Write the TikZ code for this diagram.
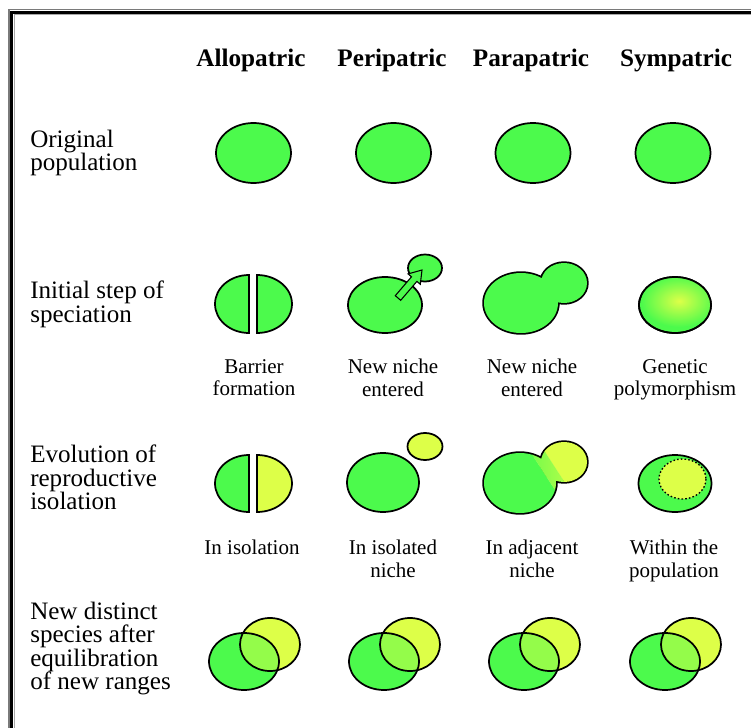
\documentclass[tikz,border=0pt]{standalone}
\usepackage{fontspec}
\setmainfont{Liberation Serif}
\definecolor{grn}{HTML}{4CFA4C}
\definecolor{yel}{HTML}{DDFF48}
\definecolor{mixc}{HTML}{94FC4A}
\definecolor{frmgray}{HTML}{7A7A7A}
\definecolor{frmlight}{HTML}{A8A8A8}
\begin{document}
\begin{tikzpicture}[x=0.75pt,y=-0.75pt,
  outl/.style={draw=black, line width=1.3pt},
  hdr/.style={anchor=north, inner sep=0pt, font=\fontsize{18.9}{22}\selectfont\bfseries},
  rowlab/.style={anchor=north west, inner sep=0pt, align=left, font={\fontsize{18.8}{17.5}\selectfont\lineskiplimit=-20pt}},
  sublab/.style={anchor=north, inner sep=0pt, align=center, font={\fontsize{15.75}{16.8}\selectfont\lineskiplimit=-20pt}}]
\useasboundingbox (0,0) rectangle (751,728);
\fill[white] (0,0) rectangle (751,728);
% frame
\draw[frmgray, line width=1.1pt, line join=miter] (8.8,730) -- (8.8,9.6) -- (753,9.6);
\draw[black, line width=2.5pt, line join=miter] (11.8,730) -- (11.8,12.4) -- (753,12.4);
\draw[frmlight, line width=0.9pt, line join=miter] (14.2,730) -- (14.2,14.8) -- (753,14.8);

% headers
\node[hdr] (hA) at (251,49) {Allopatric};
\node[hdr] (hB) at (392,49) {Peripatric};
\node[hdr] (hC) at (531,49) {Parapatric};
\node[hdr] (hD) at (676,49) {Sympatric};

% row labels
\node[rowlab] (r1) at (30,130) {Original\\population};
\node[rowlab] (r2) at (30,281) {Initial step of\\speciation};
\node[rowlab] (r3) at (30,445) {Evolution of\\reproductive\\isolation};
\node[rowlab] (r4) at (30,602) {New distinct\\species after\\equilibration\\of new ranges};

% row 1
\foreach \cx in {253.5,393.5,533,673}
  \draw[outl, fill=grn] (\cx,153) ellipse [x radius=37.5, y radius=30];

% row 2 allopatric
\draw[outl, fill=grn] (249,275) arc[start angle=270, end angle=90, x radius=34, y radius=29] -- cycle;
\draw[outl, fill=grn] (257,275) arc[start angle=-90, end angle=90, x radius=35, y radius=29] -- cycle;
% row 2 peripatric
\draw[outl, fill=grn] (385,305) ellipse [x radius=37, y radius=28];
\draw[outl, fill=grn] (425,268) ellipse [x radius=17, y radius=13.5];
\draw[fill=grn, draw=black, line width=0.8pt, line join=miter]
  (400.7,300.3) -- (416.9,281.4) -- (420.3,284.3) -- (422,270) -- (408.1,273.9) -- (411.5,276.8) -- (395.3,295.7) -- cycle;
% row 2 parapatric
\draw[line width=2.6pt] (521,303) ellipse [x radius=37, y radius=30] (564,283) ellipse [x radius=23, y radius=20];
\fill[grn] (521,303) ellipse [x radius=37, y radius=30] (564,283) ellipse [x radius=23, y radius=20];
% row 2 sympatric
\draw[outl, fill=grn] (675,305) ellipse [x radius=36, y radius=28];
\begin{scope}
  \clip (675,305) ellipse [x radius=36, y radius=28];
  \shade[inner color=yel, outer color=grn] (679,301) ellipse [x radius=38, y radius=26];
\end{scope}
\draw[outl] (675,305) ellipse [x radius=36, y radius=28];

% row 2 labels
\node[sublab] (l21) at (254,359) {Barrier\\formation};
\node[sublab] (l22) at (393,359) {New niche\\entered};
\node[sublab] (l23) at (532,359) {New niche\\entered};
\node[sublab] (l24) at (675,359) {Genetic\\polymorphism};

% row 3 allopatric
\draw[outl, fill=grn] (249,455) arc[start angle=270, end angle=90, x radius=34, y radius=28.5] -- cycle;
\draw[outl, fill=yel] (257,455) arc[start angle=-90, end angle=90, x radius=35, y radius=28.5] -- cycle;
% row 3 peripatric
\draw[outl, fill=grn] (383,482.5) ellipse [x radius=36, y radius=29.5];
\draw[outl, fill=yel] (425,446.5) ellipse [x radius=17.5, y radius=13.5];
% row 3 parapatric
\draw[line width=2.6pt] (520,483) ellipse [x radius=36, y radius=30] (564,462) ellipse [x radius=23, y radius=20];
\begin{scope}
  \clip (520,483) ellipse [x radius=36, y radius=30] (564,462) ellipse [x radius=23, y radius=20];
  \fill[grn, shift={(550,471)}, rotate=33] (-120,-80) rectangle (-6,80);
  \fill[yel, shift={(550,471)}, rotate=33] (6,-80) rectangle (120,80);
  \shade[left color=grn, right color=yel, shift={(550,471)}, rotate=33] (-6.2,-80) rectangle (6.2,80);
\end{scope}
% row 3 sympatric
\draw[outl, fill=grn] (675,483.5) ellipse [x radius=36.5, y radius=28.5];
\draw[fill=yel, draw=black, line width=1pt, dash pattern=on 1.2pt off 1.6pt] (682.5,479) ellipse [x radius=23.5, y radius=20];

% row 3 labels
\node[sublab] (l31) at (252,540) {In isolation};
\node[sublab] (l32) at (393,540) {In isolated\\niche};
\node[sublab] (l33) at (532,540) {In adjacent\\niche};
\node[sublab] (l34) at (674,540) {Within the\\population};

% row 4
\foreach \dx in {0,140,280,421} {
  \fill[grn] (244+\dx,661.5) ellipse [x radius=35, y radius=28.5];
  \fill[yel] (270+\dx,644.5) ellipse [x radius=30, y radius=26.5];
  \begin{scope}
    \clip (244+\dx,661.5) ellipse [x radius=35, y radius=28.5];
    \fill[mixc] (270+\dx,644.5) ellipse [x radius=30, y radius=26.5];
  \end{scope}
  \draw[outl] (244+\dx,661.5) ellipse [x radius=35, y radius=28.5];
  \draw[outl] (270+\dx,644.5) ellipse [x radius=30, y radius=26.5];
}
\end{tikzpicture}
\end{document}
